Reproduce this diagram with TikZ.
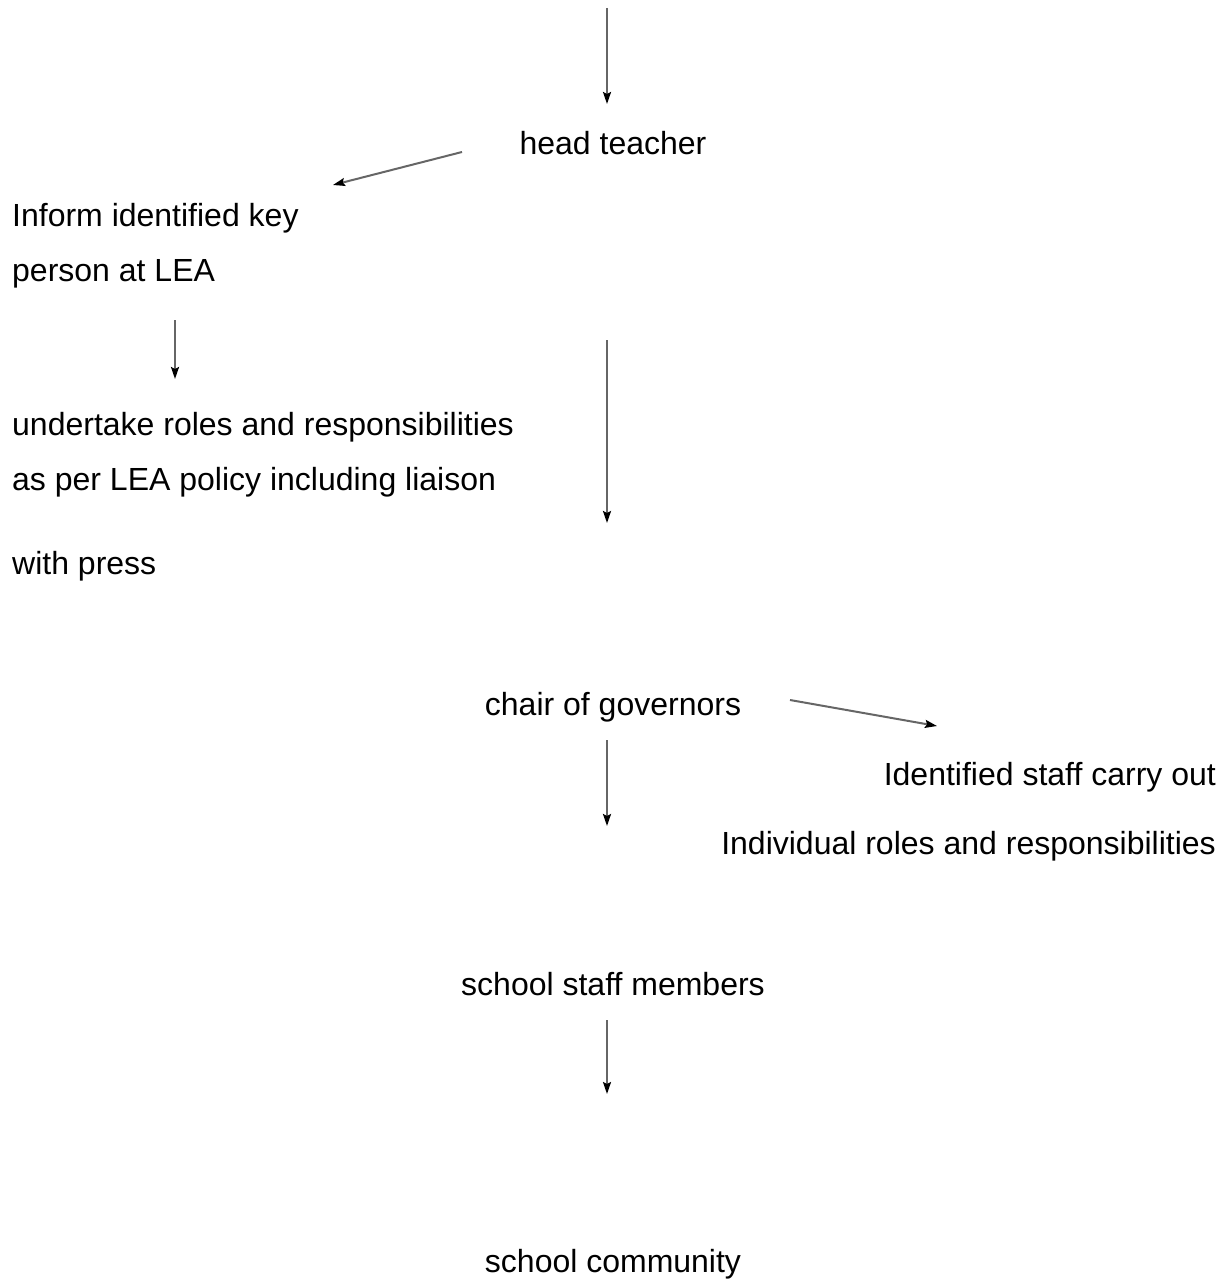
\documentclass[tikz,border=0pt]{standalone}
\usepackage{fontspec}
\setmainfont{Liberation Sans}
\usetikzlibrary{arrows.meta}
\begin{document}
\begin{tikzpicture}[x=1pt,y=-1pt,
  lbl/.style={inner sep=0pt,font=\fontsize{32}{38}\selectfont},
  flow/.style={draw=black!60,line width=2pt,-{Stealth[length=12pt,width=8pt,inset=2pt,black]}}]
\useasboundingbox (0,0) rectangle (1230,1281);
% texts
\node[lbl,anchor=base] (head) at (613,155) {head teacher};
\node[lbl,anchor=base west] (inf1) at (12,226) {Inform identified key};
\node[lbl,anchor=base west] (inf2) at (12,281) {person at LEA};
\node[lbl,anchor=base west] (und1) at (12,435) {undertake roles and responsibilities};
\node[lbl,anchor=base west] (und2) at (12,490) {as per LEA policy including liaison};
\node[lbl,anchor=base west] (und3) at (12,574) {with press};
\node[lbl,anchor=base] (chair) at (613,715) {chair of governors};
\node[lbl,anchor=base east] (id1) at (1216,785) {Identified staff carry out};
\node[lbl,anchor=base east] (id2) at (1216,854) {Individual roles and responsibilities};
\node[lbl,anchor=base] (staff) at (613,995) {school staff members};
\node[lbl,anchor=base] (comm) at (613,1272) {school community};
% connector ends
\coordinate (a0s) at (607,8);    \coordinate (a0e) at (607,104);
\coordinate (a1s) at (462,152);  \coordinate (a1e) at (333,185);
\coordinate (a2s) at (175,320);  \coordinate (a2e) at (175,379);
\coordinate (a3s) at (607,340);  \coordinate (a3e) at (607,523);
\coordinate (a4s) at (790,700);  \coordinate (a4e) at (937,726);
\coordinate (a5s) at (607,740);  \coordinate (a5e) at (607,826);
\coordinate (a6s) at (607,1020); \coordinate (a6e) at (607,1094);
\draw[flow] (a0s) -- (a0e);
\draw[flow] (a1s) -- (a1e);
\draw[flow] (a2s) -- (a2e);
\draw[flow] (a3s) -- (a3e);
\draw[flow] (a4s) -- (a4e);
\draw[flow] (a5s) -- (a5e);
\draw[flow] (a6s) -- (a6e);
\end{tikzpicture}
\end{document}
